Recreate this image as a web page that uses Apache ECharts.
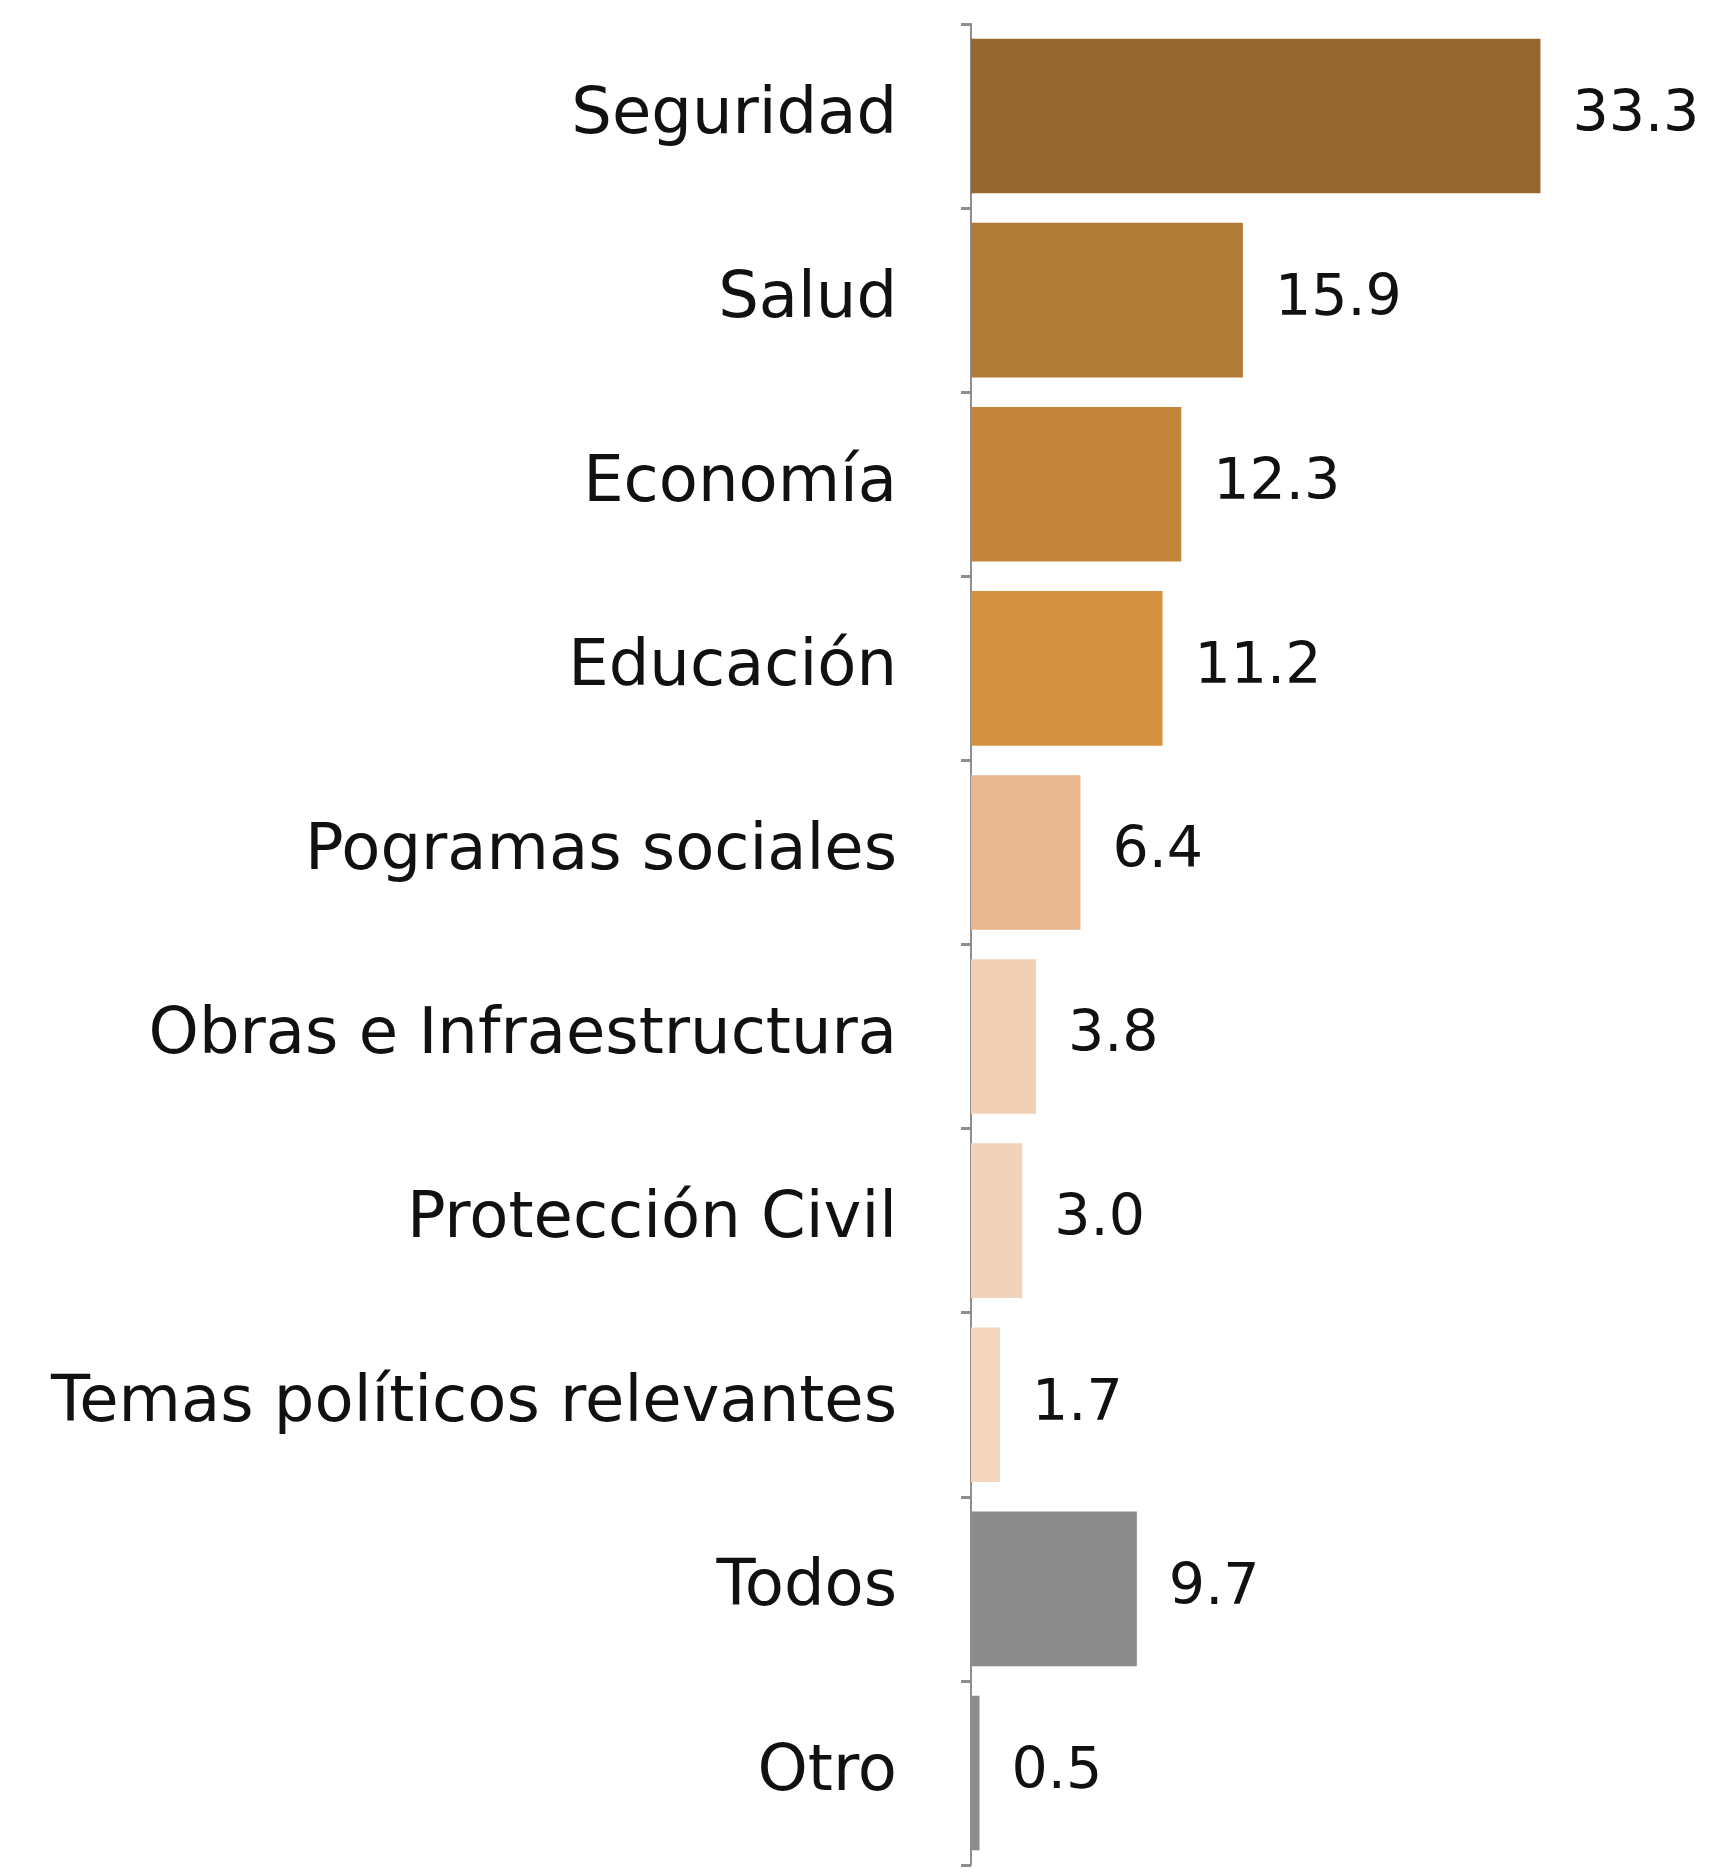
<!DOCTYPE html>
<html>
<head>
<meta charset="utf-8">
<script src="https://cdn.jsdelivr.net/npm/echarts@6/dist/echarts.min.js"></script>
<style>
html,body{margin:0;padding:0;background:#fff;}
#chart{width:1715px;height:1876px;}
</style>
</head>
<body>
<div id="chart"></div>
<script>
const categories = ["Seguridad","Salud","Economía","Educación","Pogramas sociales","Obras e Infraestructura","Protección Civil","Temas políticos relevantes","Todos","Otro"];
const values = [33.3, 15.9, 12.3, 11.2, 6.4, 3.8, 3.0, 1.7, 9.7, 0.5];
const colors = ["#96682F","#B07A37","#C2853A","#D4913F","#E8B68F","#F2D0B6","#F2D2B8","#F4D6BF","#8C8C8C","#8C8C8C"];

const chart = echarts.init(document.getElementById('chart'));
chart.setOption({
  backgroundColor: '#ffffff',
  animation: false,
  grid: { left: 971, right: 60, top: 24, bottom: 11, containLabel: false },
  xAxis: {
    type: 'value', min: 0, max: 40,
    show: false
  },
  yAxis: {
    type: 'category',
    data: categories,
    inverse: true,
    axisLine: { show: true, lineStyle: { color: '#8f8f8f', width: 2 } },
    axisTick: { show: true, length: 10, lineStyle: { color: '#8f8f8f', width: 3 } },
    axisLabel: { color: '#111', fontSize: 64, fontFamily: 'DejaVu Sans', margin: 74 }
  },
  series: [{
    type: 'bar',
    data: values.map((v, i) => ({ value: v, itemStyle: { color: colors[i] } })),
    barCategoryGap: '16%',
    label: {
      show: true, position: 'right', distance: 32,
      color: '#111', fontSize: 57, fontFamily: 'DejaVu Sans',
      formatter: p => p.value.toFixed(1)
    }
  }]
});
</script>
</body>
</html>
